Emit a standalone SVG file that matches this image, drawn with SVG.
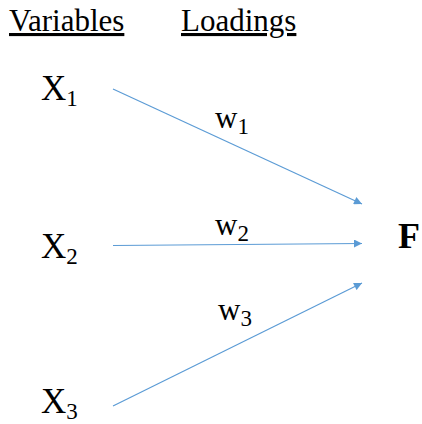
<svg xmlns="http://www.w3.org/2000/svg" width="422" height="424" viewBox="0 0 422 424">
<style>
text{font-family:"Liberation Serif","Times New Roman",serif;fill:#000}
.h{font-size:31px;text-decoration:underline}
.x{font-size:35px}
.w{font-size:31px}
.sub{font-size:23px}
.f{font-size:36px;font-weight:bold}
.c{stroke:#5b9bd5;stroke-width:1.2;fill:none;marker-end:url(#a)}
</style>
<defs>
<marker id="a" viewBox="0 0 10 10" refX="10" refY="5" markerWidth="10" markerHeight="8" markerUnits="userSpaceOnUse" orient="auto">
<path d="M0,0 L10,5 L0,10 z" fill="#5b9bd5"/>
</marker>
</defs>
<rect width="422" height="424" fill="#fff"/>
<g id="headers">
<text class="h" x="9" y="31">Variables</text>
<text class="h" x="181" y="31">Loadings</text>
</g>
<g id="connectors">
<line class="c" x1="113" y1="89" x2="362" y2="204"/>
<line class="c" x1="113" y1="245.5" x2="362" y2="243.5"/>
<line class="c" x1="113" y1="406" x2="362" y2="283"/>
</g>
<g id="x1"><text class="x" x="41" y="100">X<tspan class="sub" dy="6">1</tspan></text></g>
<g id="x2"><text class="x" x="41" y="258">X<tspan class="sub" dy="6">2</tspan></text></g>
<g id="x3"><text class="x" x="41" y="413">X<tspan class="sub" dy="6">3</tspan></text></g>
<g id="w1"><text class="w" x="215" y="128">w<tspan class="sub" dy="6">1</tspan></text></g>
<g id="w2"><text class="w" x="215" y="235">w<tspan class="sub" dy="6">2</tspan></text></g>
<g id="w3"><text class="w" x="218" y="320">w<tspan class="sub" dy="6">3</tspan></text></g>
<g id="F"><text class="f" x="398" y="248">F</text></g>
</svg>
